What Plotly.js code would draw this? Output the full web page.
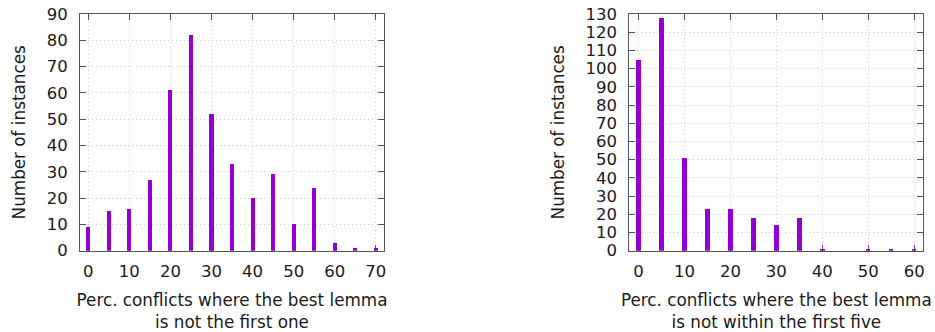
<!DOCTYPE html>
<html>
<head>
<meta charset="utf-8">
<script src="https://cdn.plot.ly/plotly-3.0.1.min.js"></script>
<style>html,body{margin:0;padding:0;background:#fff}#chart{width:935px;height:332px}</style>
</head>
<body>
<div id="chart"></div>
<script>
// Left chart: best lemma is not the first one
var binsLeft = [0, 5, 10, 15, 20, 25, 30, 35, 40, 45, 50, 55, 60, 65, 70];
var countsLeft = [9, 15, 16, 27, 61, 82, 52, 33, 20, 29, 10, 24, 3, 1, 1];
// Right chart: best lemma is not within the first five
var binsRight = [0, 5, 10, 15, 20, 25, 30, 35, 40, 45, 50, 55, 60];
var countsRight = [105, 128, 51, 23, 23, 18, 14, 18, 1, 0, 1, 1, 1];

var xTitleLeft = "Perc. conflicts where the best lemma<br>is not the first one";
var xTitleRight = "Perc. conflicts where the best lemma<br>is not within the first five";
var yTitle = "Number of instances";

var barColor = "#9400d3";
var frameColor = "#555555";
var fnt = {family: "DejaVu Sans, Liberation Sans, sans-serif", size: 16.5, color: "#1a1a1a"};
var titleFnt = {family: "DejaVu Sans, Liberation Sans, sans-serif", size: 16.8, color: "#1a1a1a"};

var traces = [
  {type: "bar", x: binsLeft, y: countsLeft, width: 1, marker: {color: barColor, line: {width: 0}}, xaxis: "x", yaxis: "y", hoverinfo: "x+y"},
  {type: "bar", x: binsRight, y: countsRight, width: 1, marker: {color: barColor, line: {width: 0}}, xaxis: "x2", yaxis: "y2", hoverinfo: "x+y"}
];

function xax(domain, range, title) {
  return {
    domain: domain, range: range, dtick: 10, tick0: 0,
    showline: true, linecolor: frameColor, linewidth: 1, mirror: "ticks",
    ticks: "inside", ticklen: 6, tickcolor: frameColor,
    showgrid: true, gridcolor: "#cfcfcf", griddash: "1px,3px", gridwidth: 1,
    zeroline: false, tickfont: fnt, ticklabelstandoff: 6, layer: "below traces",
    title: {text: title, font: titleFnt, standoff: 13},
    automargin: false, fixedrange: true
  };
}
function yax(domain, range, anchor) {
  return {
    domain: domain, range: range, dtick: 10, tick0: 0, anchor: anchor,
    showline: true, linecolor: frameColor, linewidth: 1, mirror: "ticks",
    ticks: "inside", ticklen: 6, tickcolor: frameColor,
    showgrid: true, gridcolor: "#cfcfcf", griddash: "1px,3px", gridwidth: 1,
    zeroline: false, tickfont: fnt, ticklabelstandoff: 8, layer: "below traces",
    title: {text: yTitle, font: titleFnt, standoff: 16},
    automargin: false, fixedrange: true
  };
}

var yDom = [0.2449, 0.9578];
var layout = {
  width: 935, height: 332,
  margin: {l: 0, r: 0, t: 0, b: 0},
  paper_bgcolor: "#ffffff", plot_bgcolor: "#ffffff",
  showlegend: false, bargap: 0,
  font: fnt,
  xaxis: Object.assign(xax([0.0856, 0.4107], [-2, 72], xTitleLeft), {anchor: "y"}),
  yaxis: yax(yDom, [0, 90], "x"),
  xaxis2: Object.assign(xax([0.6731, 0.9875], [-2, 62], xTitleRight), {anchor: "y2"}),
  yaxis2: yax(yDom, [0, 130], "x2")
};

Plotly.newPlot("chart", traces, layout, {staticPlot: true, displayModeBar: false});
</script>
</body>
</html>
